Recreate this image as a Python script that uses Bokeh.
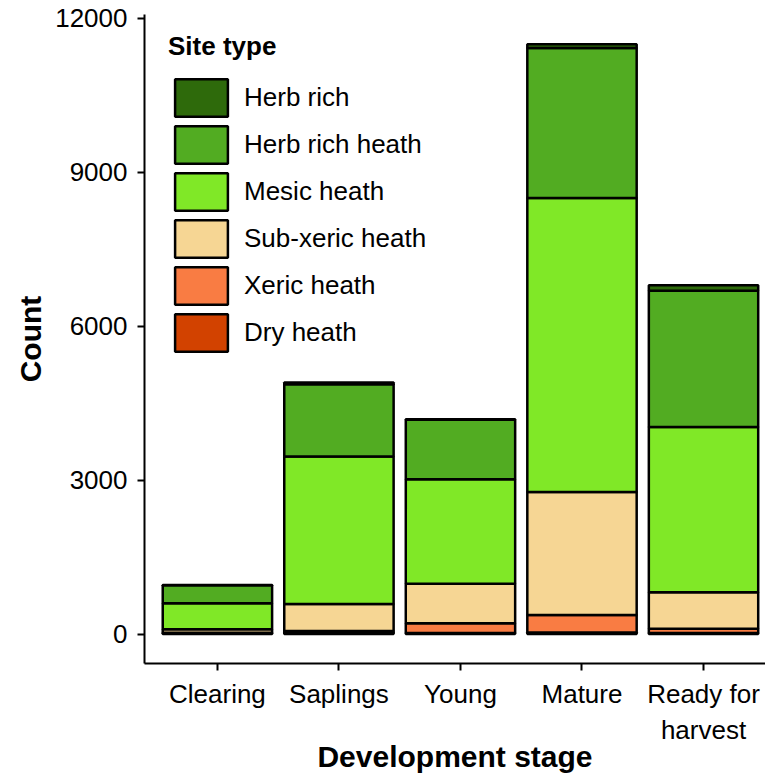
from bokeh.plotting import figure
from bokeh.models import Range1d, FixedTicker, Legend, LegendItem, ColumnDataSource
from bokeh.embed import file_html
from bokeh.resources import INLINE

stages = ["Clearing", "Saplings", "Young", "Mature", "Ready for\nharvest"]
site_types = ["Dry heath", "Xeric heath", "Sub-xeric heath", "Mesic heath", "Herb rich heath", "Herb rich"]
colors = ["#d24200", "#f97c43", "#f6d694", "#80e827", "#52ac22", "#2e6a0b"]

dry_heath = [10, 25, 20, 30, 20]
xeric_heath = [15, 35, 190, 340, 80]
sub_xeric_heath = [70, 525, 770, 2400, 715]
mesic_heath = [505, 2875, 2035, 5730, 3220]
herb_rich_heath = [350, 1410, 1160, 2920, 2655]
herb_rich = [5, 30, 10, 75, 110]

y_ticks = [0, 3000, 6000, 9000, 12000]

xpos = list(range(1, len(stages) + 1))
source = ColumnDataSource(dict(
    x=xpos,
    **{"Dry heath": dry_heath, "Xeric heath": xeric_heath, "Sub-xeric heath": sub_xeric_heath,
       "Mesic heath": mesic_heath, "Herb rich heath": herb_rich_heath, "Herb rich": herb_rich}
))

p = figure(width=765, height=776, x_range=Range1d(0.4, 5.51), y_range=Range1d(-575, 12075),
           output_backend="svg", toolbar_location=None,
           min_border_left=144, min_border_right=0, min_border_top=14, min_border_bottom=113)

renderers = p.vbar_stack(site_types, x="x", width=0.9, source=source, color=colors,
                         line_color="black", line_width=2.5)

p.xgrid.visible = False
p.ygrid.visible = False
p.outline_line_color = None

p.xaxis.ticker = FixedTicker(ticks=xpos)
p.xaxis.major_label_overrides = {i + 1: s for i, s in enumerate(stages)}
p.yaxis.ticker = FixedTicker(ticks=y_ticks)
p.xaxis.minor_tick_line_color = None
p.yaxis.minor_tick_line_color = None

for ax in (p.xaxis[0], p.yaxis[0]):
    ax.axis_line_width = 2
    ax.axis_line_color = "black"
    ax.major_tick_line_width = 2
    ax.major_tick_line_color = "black"
    ax.major_tick_in = 0
    ax.major_tick_out = 7
    ax.major_label_text_font = "Liberation Sans"
    ax.major_label_text_font_size = "26px"
    ax.major_label_text_color = "black"
    ax.axis_label_text_font = "Liberation Sans"
    ax.axis_label_text_font_size = "30px"
    ax.axis_label_text_font_style = "bold"
    ax.axis_label_text_color = "black"

p.xaxis.axis_label = "Development stage"
p.yaxis.axis_label = "Count"
p.xaxis.major_label_standoff = 8
p.yaxis.major_label_standoff = 10
p.xaxis.axis_label_standoff = -8
p.yaxis.axis_label_standoff = 5

items = [LegendItem(label=site_types[i], renderers=[renderers[i]]) for i in reversed(range(len(site_types)))]
legend = Legend(items=items, location=(24, 307), title="Site type",
                title_text_font="Liberation Sans", title_text_font_size="26px",
                title_text_font_style="bold", title_text_color="black", title_standoff=12,
                label_text_font="Liberation Sans", label_text_font_size="26px",
                label_text_color="black",
                glyph_width=66, glyph_height=47, label_height=47, spacing=0,
                label_standoff=10, padding=0, margin=0,
                border_line_color=None, background_fill_alpha=0)
p.add_layout(legend, "center")

open("out.html", "w").write(file_html(p, INLINE))
